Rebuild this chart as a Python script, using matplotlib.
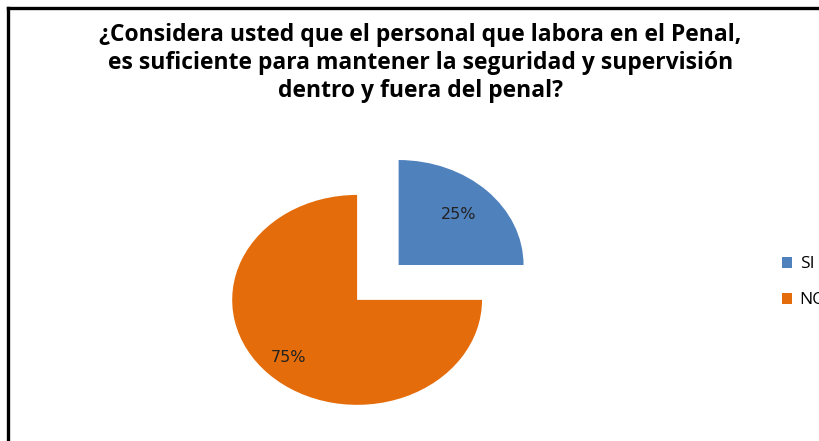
import numpy as np
import matplotlib
matplotlib.use('Agg')
import matplotlib.pyplot as plt
from matplotlib.lines import Line2D

plt.rcParams['font.family'] = ['Open Sans', 'DejaVu Sans']

# datos
categorias = ['SI', 'NO']
porcentajes = [25, 75]
colores = ['#4F81BD', '#E46C0A']
titulo = ('¿Considera usted que el personal que labora en el Penal,\n'
          'es suficiente para mantener la seguridad y supervisión\n'
          'dentro y fuera del penal?')

fig = plt.figure(figsize=(8.2, 4.41), dpi=100)

# ejes estirados (el pastel original es algo ovalado)
ax = fig.add_axes([0.207, -0.037, 0.457, 0.714])
wedges, texts, autotexts = ax.pie(porcentajes, colors=colores, startangle=0,
                                  counterclock=True, explode=[0.47, 0],
                                  autopct='%1.0f%%', pctdistance=0.7,
                                  textprops={'fontsize': 11, 'color': '#222222'})
ax.set_aspect('auto')
ax.set_xlim(-1.5, 1.5)
ax.set_ylim(-1.5, 1.5)
ax.axis('off')

# mover las etiquetas de porcentaje
dist = [0.68, 0.78]
for w, t, d in zip(wedges, autotexts, dist):
    ang = np.deg2rad((w.theta1 + w.theta2) / 2)
    cx, cy = w.center
    t.set_position((cx + d * np.cos(ang), cy + d * np.sin(ang)))
    t.set_family(['DejaVu Sans'])
    t.set_fontsize(11.5)

# titulo
fig.text(0.513, 0.947, titulo, ha='center', va='top', fontsize=16.5,
         fontweight='bold', linespacing=1.22)

# leyenda
fig.legend(wedges, categorias, loc='center left', bbox_to_anchor=(0.934, 0.36),
           frameon=False, fontsize=12.5, handlelength=0.6, handleheight=0.6,
           handletextpad=0.45, labelspacing=1.15)

# borde del cuadro
fig.add_artist(Line2D([8 / 820, 8 / 820], [0, 1 - 8 / 441], transform=fig.transFigure,
                      color='black', lw=2.4))
fig.add_artist(Line2D([8 / 820, 1], [1 - 8 / 441, 1 - 8 / 441], transform=fig.transFigure,
                      color='black', lw=2.4))

fig.savefig('out.png', dpi=100)
